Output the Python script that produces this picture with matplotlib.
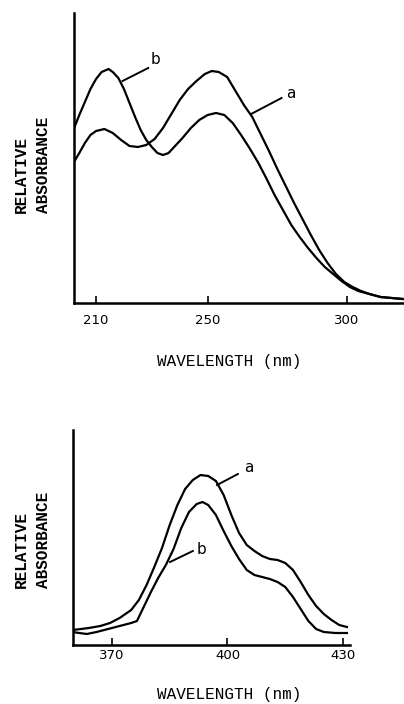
import matplotlib
matplotlib.use("Agg")
import matplotlib.pyplot as plt

# ---- Top panel data (UV region) ----
top_wl_a = [202.3, 204, 206, 208, 210, 213, 216, 219, 222, 225, 228, 231, 234, 237, 240, 243, 246, 249,
            251.5, 254, 257, 260, 263, 266, 269, 272, 275, 278, 281, 284, 287, 290, 293, 296, 299, 302,
            305, 308, 312, 316, 320]
top_abs_a = [142, 150, 160, 168, 172, 174, 170, 163, 157, 156, 158, 164, 175, 189, 203, 214, 222, 229,
             232, 231, 226, 212, 198, 186, 169, 152, 134, 117, 100, 84, 68, 53, 40, 29, 21, 16,
             12, 9, 6, 5, 4]
top_wl_b = [202.3, 204, 206, 208, 210, 212, 214.5, 216, 218, 220, 222, 224, 226, 228, 230, 232, 234, 236,
            238, 241, 244, 247, 250, 253, 256, 259, 262, 265, 268, 271, 274, 277, 280, 283, 286, 289,
            292, 295, 298, 301, 304, 308, 312, 316, 320]
top_abs_b = [176, 188, 201, 214, 224, 231, 234, 231, 225, 214, 200, 186, 173, 163, 156, 150, 148, 150,
             156, 165, 175, 183, 188, 190, 188, 180, 168, 155, 141, 125, 108, 93, 78, 66, 55, 45,
             36, 29, 22, 16, 12, 9, 6, 5, 4]
top_ticks = [210, 250, 300]

# ---- Bottom panel data (visible region) ----
bot_wl_a = [359.8, 362, 364, 367, 369.5, 372, 375, 377, 379, 381, 383, 385, 387, 389, 391, 393, 395, 397,
            399, 401, 403, 405, 407, 409, 411, 413, 415, 417, 419, 421, 423, 425, 427, 429, 431]
bot_abs_a = [15, 16, 17, 19, 22, 27, 35, 45, 60, 78, 97, 120, 140, 156, 165, 170, 169, 164,
             150, 130, 112, 100, 94, 89, 86, 85, 82, 75, 63, 50, 39, 31, 25, 20, 18]
bot_wl_b = [359.8, 361.5, 363.5, 366, 369, 372, 375, 376.5, 378, 380, 382, 384, 386, 388, 390, 392, 393.5,
            395, 397, 399, 401, 403, 405, 407, 409, 411, 413, 415, 417, 419, 421, 423, 425, 428, 431]
bot_abs_b = [13, 12, 11, 13, 16, 19, 22, 24, 36, 52, 67, 80, 96, 117, 133, 141, 143,
             140, 130, 114, 99, 86, 75, 70, 68, 66, 63, 58, 48, 36, 24, 16, 13, 12, 12]
bot_ticks = [370, 400, 430]

W, H = 404, 704
fig = plt.figure(figsize=(W / 100, H / 100), dpi=100)
fig.patch.set_facecolor("white")

lab_font = ["Liberation Mono", "DejaVu Sans Mono"]
tick_font = ["DejaVu Sans"]


def style_axes(ax, ticks, pad):
    for s in ("top", "right"):
        ax.spines[s].set_visible(False)
    for s in ("left", "bottom"):
        ax.spines[s].set_linewidth(1.8)
        ax.spines[s].set_color("black")
    ax.set_yticks([])
    ax.set_xticks(ticks)
    ax.set_xticklabels([str(t) for t in ticks], family=tick_font, fontsize=9.5)
    ax.tick_params(axis="x", direction="in", length=5, width=1.2, pad=pad)


# Top axes
ax1 = fig.add_axes([74 / W, 1 - 303 / H, (404 - 74) / W, (303 - 13) / H])
ax1.plot(top_wl_a, top_abs_a, color="black", lw=1.6, solid_joinstyle="round")
ax1.plot(top_wl_b, top_abs_b, color="black", lw=1.6, solid_joinstyle="round")
ax1.set_xlim(202.1, 320.4)
ax1.set_ylim(0, 290)
style_axes(ax1, top_ticks, 8)
ax1.plot([265.6, 276.5], [189, 205], color="black", lw=1.4)
ax1.text(278.3, 209, "a", fontsize=11, ha="left", va="center", family=["DejaVu Sans"])
ax1.plot([219.5, 228.7], [222, 235], color="black", lw=1.4)
ax1.text(229.5, 243, "b", fontsize=11, ha="left", va="center", family=["DejaVu Sans"])

# Bottom axes
ax2 = fig.add_axes([73 / W, 1 - 645 / H, (350 - 73) / W, (645 - 430) / H])
ax2.plot(bot_wl_a, bot_abs_a, color="black", lw=1.6, solid_joinstyle="round")
ax2.plot(bot_wl_b, bot_abs_b, color="black", lw=1.6, solid_joinstyle="round")
ax2.set_xlim(359.9, 431.8)
ax2.set_ylim(0, 215)
style_axes(ax2, bot_ticks, 3)
ax2.plot([397.3, 402.7], [160, 171], color="black", lw=1.4)
ax2.text(404.3, 177, "a", fontsize=11, ha="left", va="center", family=["DejaVu Sans"])
ax2.plot([385.1, 391.0], [83, 94], color="black", lw=1.4)
ax2.text(392.0, 96, "b", fontsize=11, ha="left", va="center", family=["DejaVu Sans"])

# Axis titles
fig.text(229 / W, 1 - 366 / H, "WAVELENGTH (nm)", family=lab_font, fontsize=11.5,
         ha="center", va="baseline")
fig.text(229 / W, 1 - 699 / H, "WAVELENGTH (nm)", family=lab_font, fontsize=11.5,
         ha="center", va="baseline")

for ybot in (213, 588):
    fig.text(21 / W, 1 - ybot / H, "RELATIVE", family=lab_font, fontsize=11.5, weight="bold",
             rotation=90, ha="center", va="bottom")
    fig.text(44 / W, 1 - ybot / H, "ABSORBANCE", family=lab_font, fontsize=11.5, weight="bold",
             rotation=90, ha="center", va="bottom")

fig.savefig("out.png", dpi=100, facecolor="white")
